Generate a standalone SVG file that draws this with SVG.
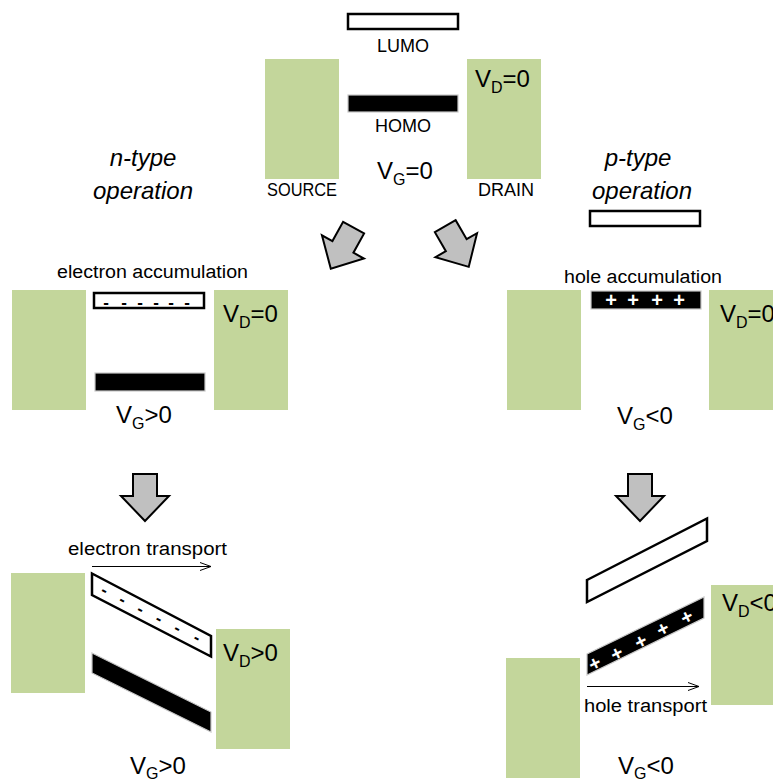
<svg xmlns="http://www.w3.org/2000/svg" width="773" height="782" viewBox="0 0 773 782">
<style>
.t{font-family:"Liberation Sans",Arial,sans-serif;fill:#000}
.lbl{font-size:18px}
.v{font-size:24px}
.it{font-size:24px;font-style:italic;text-anchor:middle}
.metal{fill:#c3d69b}
.lumo{fill:#fff;stroke:#000;stroke-width:2.5}
.homo{fill:#000;stroke:#c8c8c8;stroke-width:1.2}
.blk{fill:#c0c0c0;stroke:#000;stroke-width:2;stroke-linejoin:miter}
.minus{font-family:"Liberation Sans",Arial,sans-serif;font-size:17px;font-weight:bold;fill:#000;text-anchor:middle}
.plus{font-family:"Liberation Sans",Arial,sans-serif;font-size:20px;font-weight:bold;fill:#fff;text-anchor:middle}
.flow{stroke:#000;stroke-width:1;fill:none}
</style>
<defs>
<path id="barrow" d="M-12,-23.5 L12,-23.5 L12,-1.5 L24,-1.5 L0,23.5 L-24,-1.5 L-12,-1.5 Z"/>
<marker id="open" markerWidth="12" markerHeight="10" refX="11" refY="5" orient="auto" markerUnits="userSpaceOnUse">
<path d="M0,1 L11,5 L0,9" fill="none" stroke="#000" stroke-width="1"/>
</marker>
</defs>
<rect width="773" height="782" fill="#fff"/>

<g id="top-panel">
<rect class="metal" x="265" y="59" width="74" height="120"/>
<rect class="metal" x="467" y="59" width="74" height="120"/>
<rect class="lumo" x="348" y="14" width="110" height="15"/>
<rect class="homo" x="348" y="95" width="110" height="17"/>
<text class="t lbl" x="403" y="52" text-anchor="middle">LUMO</text>
<text class="t lbl" x="403" y="132" text-anchor="middle">HOMO</text>
<text class="t lbl" x="267" y="196" textLength="70" lengthAdjust="spacingAndGlyphs">SOURCE</text>
<text class="t lbl" x="478" y="196" textLength="56" lengthAdjust="spacingAndGlyphs">DRAIN</text>
<text class="t v" x="475" y="87">V<tspan font-size="16" dy="6">D</tspan><tspan dy="-6">=0</tspan></text>
<text class="t v" x="377" y="179">V<tspan font-size="16" dy="6">G</tspan><tspan dy="-6">=0</tspan></text>
</g>

<g id="n-type-label">
<text class="t it" x="143" y="166">n-type</text>
<text class="t it" x="143" y="199">operation</text>
</g>
<g id="p-type-label">
<text class="t it" x="638" y="166">p-type</text>
<text class="t it" x="642" y="199">operation</text>
</g>

<g id="n-accumulation">
<rect class="metal" x="12" y="290" width="74" height="120"/>
<rect class="metal" x="214" y="290" width="74" height="120"/>
<rect class="lumo" x="94" y="293" width="110" height="15"/>
<text class="minus" x="106" y="308">-</text>
<text class="minus" x="124" y="308">-</text>
<text class="minus" x="140" y="308">-</text>
<text class="minus" x="156" y="308">-</text>
<text class="minus" x="171" y="308">-</text>
<text class="minus" x="187" y="308">-</text>
<rect class="homo" x="95" y="373" width="110" height="18"/>
<text class="t lbl" x="57" y="278" textLength="191" lengthAdjust="spacingAndGlyphs">electron accumulation</text>
<text class="t v" x="223" y="322">V<tspan font-size="16" dy="6">D</tspan><tspan dy="-6">=0</tspan></text>
<text class="t v" x="116" y="423">V<tspan font-size="16" dy="6">G</tspan><tspan dy="-6">&gt;0</tspan></text>
</g>

<g id="p-accumulation">
<rect class="metal" x="507" y="290" width="74" height="120"/>
<rect class="metal" x="709" y="290" width="74" height="120"/>
<rect class="lumo" x="590" y="211" width="110" height="15"/>
<rect class="homo" x="591" y="291" width="110" height="18"/>
<text class="plus" x="611" y="307">+</text>
<text class="plus" x="633" y="307">+</text>
<text class="plus" x="657" y="307">+</text>
<text class="plus" x="679" y="307">+</text>
<text class="t lbl" x="564" y="283" textLength="158" lengthAdjust="spacingAndGlyphs">hole accumulation</text>
<text class="t v" x="720" y="322">V<tspan font-size="16" dy="6">D</tspan><tspan dy="-6">=0</tspan></text>
<text class="t v" x="617" y="424">V<tspan font-size="16" dy="6">G</tspan><tspan dy="-6">&lt;0</tspan></text>
</g>

<g id="n-transport">
<rect class="metal" x="11" y="573" width="74" height="120"/>
<rect class="metal" x="216" y="629" width="74" height="120"/>
<polygon class="lumo" points="92,573.5 211,636 211,656.5 92,595"/>
<g class="minus">
<text transform="translate(104,591) rotate(28)" y="4.5">-</text>
<text transform="translate(122,600.5) rotate(28)" y="4.5">-</text>
<text transform="translate(140,610) rotate(28)" y="4.5">-</text>
<text transform="translate(158.5,619.5) rotate(28)" y="4.5">-</text>
<text transform="translate(177,629) rotate(28)" y="4.5">-</text>
<text transform="translate(196.5,638.5) rotate(28)" y="4.5">-</text>
</g>
<polygon class="homo" points="92,653 211,712 211,732 92,673"/>
<text class="t lbl" x="68" y="555" textLength="159" lengthAdjust="spacingAndGlyphs">electron transport</text>
<text class="t v" x="223" y="661">V<tspan font-size="16" dy="6">D</tspan><tspan dy="-6">&gt;0</tspan></text>
<text class="t v" x="130" y="774">V<tspan font-size="16" dy="5">G</tspan><tspan dy="-5">&gt;0</tspan></text>
</g>

<g id="p-transport">
<rect class="metal" x="506" y="658" width="74" height="120"/>
<rect class="metal" x="711" y="585" width="74" height="120"/>
<polygon class="lumo" points="587,580 707,518.5 707,541 587,602"/>
<polygon class="homo" points="587,654 704,597 704,618 587,675"/>
<g class="plus">
<text transform="translate(595,663.5) rotate(-26)" y="6.5">+</text>
<text transform="translate(617,653.5) rotate(-26)" y="6.5">+</text>
<text transform="translate(641,641.5) rotate(-26)" y="6.5">+</text>
<text transform="translate(663,629) rotate(-26)" y="6.5">+</text>
<text transform="translate(687,617) rotate(-26)" y="6.5">+</text>
</g>
<text class="t lbl" x="584" y="712" textLength="123" lengthAdjust="spacingAndGlyphs">hole transport</text>
<text class="t v" x="722" y="611">V<tspan font-size="16" dy="6">D</tspan><tspan dy="-6">&lt;0</tspan></text>
<text class="t v" x="618" y="774">V<tspan font-size="16" dy="5">G</tspan><tspan dy="-5">&lt;0</tspan></text>
</g>

<g id="connectors">
<use href="#barrow" class="blk" transform="translate(342.2,248.2) rotate(29)"/>
<use href="#barrow" class="blk" transform="translate(457,246.5) rotate(-30)"/>
<use href="#barrow" class="blk" transform="translate(145,497.5)"/>
<use href="#barrow" class="blk" transform="translate(640,497.5)"/>
<line class="flow" x1="92" y1="566.5" x2="211" y2="566.5" marker-end="url(#open)"/>
<line class="flow" x1="587" y1="686.5" x2="699" y2="686.5" marker-end="url(#open)"/>
</g>
</svg>
